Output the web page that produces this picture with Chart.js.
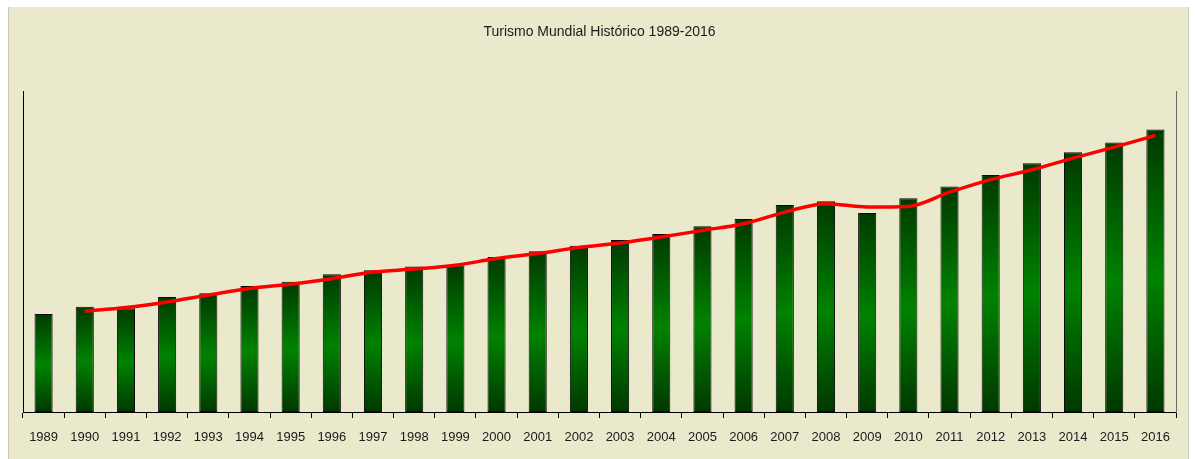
<!DOCTYPE html>
<html>
<head>
<meta charset="utf-8">
<script src="https://cdn.jsdelivr.net/npm/chart.js@4/dist/chart.umd.min.js"></script>
<style>
  html, body { margin: 0; padding: 0; background: #ffffff; }
  #wrap { width: 1195px; height: 459px; position: relative; }
</style>
</head>
<body>
<div id="wrap"><canvas id="c" width="1195" height="459"></canvas></div>
<script>
const title = 'Turismo Mundial Histórico 1989-2016';
const years = ['1989','1990','1991','1992','1993','1994','1995','1996','1997','1998','1999','2000','2001','2002','2003','2004','2005','2006','2007','2008','2009','2010','2011','2012','2013','2014','2015','2016'];
// International tourist arrivals (millions)
const arrivals = [429,460,454,503,519,551,569,602,620,636,642,678,703,727,752,778,812,844,905,921,870,935,986,1036,1088,1136,1178,1235];
// Smoothed trend line (red), starts in 1990
const trend = [null,441,457,481,511,540,559,583,612,625,642,671,693,719,739,765,794,823,874,911,896,899,961,1016,1059,1110,1158,1209];
const yMax = 1400;

const panelPlugin = {
  id: 'panel',
  beforeDraw(chart) {
    const c = chart.ctx;
    c.save();
    c.fillStyle = '#ffffff';
    c.fillRect(0, 0, chart.width, chart.height);
    c.fillStyle = '#ebe9cb';
    c.fillRect(8, 7, 1180, chart.height - 7);
    c.fillStyle = '#c9c8b8';
    c.fillRect(8, 7, 1, chart.height - 7);
    c.fillRect(1188, 7, 1, chart.height - 7);
    c.restore();
  }
};

function barGradient(ctx) {
  const chart = ctx.chart;
  const ys = chart.scales.y;
  if (!chart.chartArea || !ys || ctx.raw == null) return '#006000';
  const top = ys.getPixelForValue(ctx.raw);
  const bottom = ys.getPixelForValue(0);
  if (!isFinite(top) || !isFinite(bottom) || top === bottom) return '#006000';
  const g = chart.ctx.createLinearGradient(0, top, 0, bottom);
  g.addColorStop(0, '#003a00');
  g.addColorStop(0.52, '#008200');
  g.addColorStop(1, '#003800');
  return g;
}

new Chart(document.getElementById('c'), {
  data: {
    labels: years,
    datasets: [
      {
        type: 'line',
        data: trend,
        borderColor: '#ff0000',
        borderWidth: 3.5,
        pointRadius: 0,
        tension: 0.4,
        cubicInterpolationMode: 'monotone',
        spanGaps: false,
        order: 0
      },
      {
        type: 'bar',
        data: arrivals,
        backgroundColor: barGradient,
        borderColor: '#0a0a0a',
        borderWidth: 1,
        borderSkipped: false,
        categoryPercentage: 1,
        barPercentage: 0.44,
        order: 1
      }
    ]
  },
  options: {
    responsive: false,
    animation: false,
    devicePixelRatio: 1,
    layout: { padding: { left: 23, right: 19, top: 0, bottom: 0 } },
    plugins: {
      legend: { display: false },
      tooltip: { enabled: false },
      title: {
        display: true,
        text: title,
        color: '#1a1a1a',
        font: { family: "'Liberation Sans', Arial, sans-serif", size: 14, weight: 'normal', lineHeight: 1.2 },
        padding: { top: 24, bottom: 51 }
      }
    },
    scales: {
      x: {
        offset: true,
        grid: { display: true, drawOnChartArea: false, drawTicks: true, tickLength: 6, color: '#000000', offset: true },
        border: { display: true, color: '#000000', width: 1 },
        ticks: {
          color: '#1a1a1a',
          font: { family: "'Liberation Sans', Arial, sans-serif", size: 13 },
          padding: 12,
          maxRotation: 0,
          autoSkip: false
        },
        afterFit(s) { s.height = 47; }
      },
      y: {
        min: 0,
        max: yMax,
        position: 'left',
        grid: { display: false },
        border: { display: true, color: '#000000', width: 1 },
        ticks: { display: false },
        afterFit(s) { s.width = 0; }
      },
      y2: {
        min: 0,
        max: yMax,
        position: 'right',
        grid: { display: false },
        border: { display: true, color: '#6a6a60', width: 1 },
        ticks: { display: false },
        afterFit(s) { s.width = 0; }
      }
    }
  },
  plugins: [panelPlugin]
});
</script>
</body>
</html>
